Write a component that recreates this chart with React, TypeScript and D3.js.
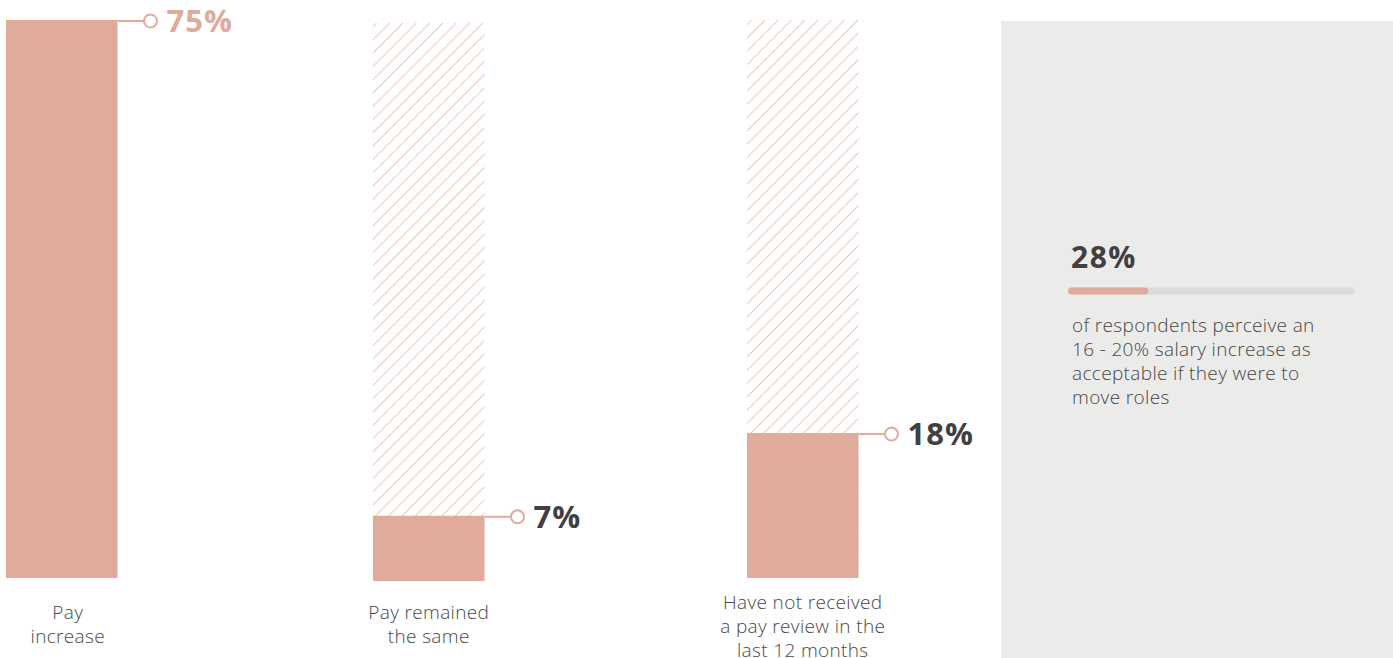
import React from "react";
import * as d3 from "d3";

const categories = [["Pay", "increase"], ["Pay remained", "the same"], ["Have not received", "a pay review in the", "last 12 months"]];
const values = [75, 7, 18];
const valueLabels = ["75%", "7%", "18%"];
const panelValue = 28;
const panelLabel = "28%";
const panelText = ["of respondents perceive an", "16 - 20% salary increase as", "acceptable if they were to", "move roles"];

const W = 1393;
const H = 658;
const SALMON = "#e0aa9d";
const HATCH = "#e9b9ad";
const DARK = "#404040";
const TEXT = "#474747";
const FONT = "'Open Sans', 'Noto Sans', sans-serif";

export default function App() {
  const barX = d3.scaleOrdinal<number, number>().domain([0, 1, 2]).range([6, 373, 747]);
  const barW = 111.5;
  const offsets = [0, 3, 0];
  const labelShift = [6, 0, 0];
  const y = d3.scaleLinear().domain([-2, 75]).range([578, 20]);
  const progress = d3.scaleLinear().domain([0, 100]).range([0, 287]);
  const labelY = [612, 612, 602];

  return (
    <svg width={W} height={H} style={{ position: "absolute", left: 0, top: 0 }}>
      <defs>
        <pattern id="hatch" patternUnits="userSpaceOnUse" width={9.4} height={9.4} patternTransform="rotate(45)">
          <line x1={0} y1={0} x2={0} y2={9.4} stroke={HATCH} strokeWidth={1.6} />
        </pattern>
      </defs>
      <rect x={0} y={0} width={W} height={H} fill="#fff" />
      {values.map((v, i) => {
        const x0 = barX(i);
        const off = offsets[i];
        const top = y(75) + off;
        const base = y(-2) + off;
        const vy = y(v) + off;
        const cx = x0 + barW + 33;
        return (
          <g key={i}>
            <rect x={x0} y={top} width={barW} height={base - top} fill="url(#hatch)" />
            <rect x={x0} y={vy} width={barW} height={base - vy} fill={SALMON} />
            <line x1={x0 + barW} x2={cx - 7} y1={vy + 1} y2={vy + 1} stroke={SALMON} strokeWidth={2} />
            <circle cx={cx} cy={vy + 1} r={6.5} fill="#fff" stroke={SALMON} strokeWidth={2} />
            <text x={cx + 16} y={vy + 1} dy="0.36em" fontFamily={FONT} fontWeight={700} fontSize={31}
              fill={i === 0 ? SALMON : DARK} letterSpacing={1}>{valueLabels[i]}</text>
            {categories[i].map((line, j) => (
              <text key={j} x={x0 + barW / 2 + labelShift[i]} y={labelY[i] + j * 24} dy="0.35em" textAnchor="middle"
                fontFamily={FONT} fontSize={19} fontWeight={300} fill={TEXT} letterSpacing={0.35}>{line}</text>
            ))}
          </g>
        );
      })}
      <rect x={1001} y={21} width={W - 1001} height={H - 21} fill="#ebebe9" />
      <text x={1071} y={268} fontFamily={FONT} fontWeight={700} fontSize={30} fill={DARK} letterSpacing={1.5}>{panelLabel}</text>
      <rect x={1068} y={287.5} width={progress(100)} height={7} rx={3.5} fill="#dcdcda" />
      <rect x={1068} y={287.5} width={progress(panelValue)} height={7} rx={3.5} fill={SALMON} />
      {panelText.map((t, j) => (
        <text key={j} x={1072} y={325 + j * 24} dy="0.35em" fontFamily={FONT} fontSize={19} fontWeight={300} fill={TEXT} letterSpacing={0.35}>{t}</text>
      ))}
    </svg>
  );
}
